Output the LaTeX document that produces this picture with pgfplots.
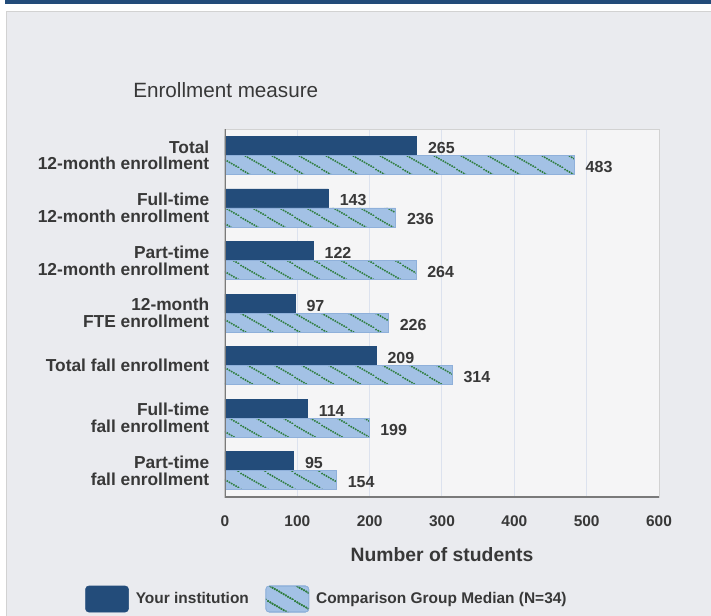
\documentclass[border=0pt]{standalone}
\usepackage{fontspec}
\setmainfont{Liberation Sans}
\usepackage{pgfplots}
\pgfplotsset{compat=1.18}
\usetikzlibrary{patterns}

\definecolor{navy}{HTML}{234C7A}
\definecolor{lblue}{HTML}{A3C1E5}
\definecolor{lblueedge}{HTML}{8FB0DA}
\definecolor{dotgreen}{HTML}{2F7D3E}
\definecolor{panel}{HTML}{EAEBEF}
\definecolor{plotbg}{HTML}{F5F5F6}
\definecolor{txt}{HTML}{383838}
\definecolor{gridc}{HTML}{DCE2EE}
\definecolor{axisdark}{HTML}{7A7A7A}
\definecolor{axislight}{HTML}{D2D2D2}

\pgfdeclarepatternformonly{dotdiag}{\pgfqpoint{0pt}{0pt}}{\pgfqpoint{20pt}{12pt}}{\pgfqpoint{20pt}{12pt}}{%
  \pgfpathcircle{\pgfqpoint{0.833pt}{11.5pt}}{0.85pt}%
  \pgfpathcircle{\pgfqpoint{2.5pt}{10.5pt}}{0.85pt}%
  \pgfpathcircle{\pgfqpoint{4.167pt}{9.5pt}}{0.85pt}%
  \pgfpathcircle{\pgfqpoint{5.833pt}{8.5pt}}{0.85pt}%
  \pgfpathcircle{\pgfqpoint{7.5pt}{7.5pt}}{0.85pt}%
  \pgfpathcircle{\pgfqpoint{9.167pt}{6.5pt}}{0.85pt}%
  \pgfpathcircle{\pgfqpoint{10.833pt}{5.5pt}}{0.85pt}%
  \pgfpathcircle{\pgfqpoint{12.5pt}{4.5pt}}{0.85pt}%
  \pgfpathcircle{\pgfqpoint{14.167pt}{3.5pt}}{0.85pt}%
  \pgfpathcircle{\pgfqpoint{15.833pt}{2.5pt}}{0.85pt}%
  \pgfpathcircle{\pgfqpoint{17.5pt}{1.5pt}}{0.85pt}%
  \pgfpathcircle{\pgfqpoint{19.167pt}{0.5pt}}{0.85pt}%
  \pgfusepath{fill}}

\begin{document}
\begin{tikzpicture}
\useasboundingbox (0,0) rectangle (533.25pt,-462pt);
\fill[white] (0,0) rectangle (533.25pt,-462pt);
\fill[navy] (3.75pt,0) rectangle (534pt,-3pt);
\filldraw[fill=panel, draw=axislight, line width=0.75pt] (4.5pt,-8.5pt) rectangle (540pt,-470pt);

\begin{axis}[
  name=ax,
  at={(168.75pt,-372.75pt)}, anchor=south west,
  scale only axis, width=325.5pt, height=276pt,
  xbar, bar width=14.25pt,
  xmin=0, xmax=600, ymin=-0.5, ymax=6.5, y dir=reverse,
  axis background/.style={fill=plotbg},
  axis line style={draw=axislight, line width=0.75pt},
  xtick={0,100,...,600},
  xmajorgrids, grid style={gridc, line width=0.75pt},
  xtick style={draw=none},
  ytick={0,...,6},
  ytick style={draw=none},
  minor ytick={-0.5,0.5,...,6.5},
  minor tick length=3.75pt,
  tick align=outside,
  minor tick style={axisdark, line width=1pt},
  yticklabels={{Total\\12-month enrollment},{Full-time\\12-month enrollment},{Part-time\\12-month enrollment},{12-month\\FTE enrollment},{Total fall enrollment},{Full-time\\fall enrollment},{Part-time\\fall enrollment}},
  yticklabel style={font=\bfseries\fontsize{13pt}{12.6pt}\selectfont, text=txt, align=right, xshift=-4pt},
  xticklabel style={font=\bfseries\fontsize{11.6pt}{13pt}\selectfont, text=txt, yshift=-6pt},
  /pgf/number format/assume math mode=true,
  xlabel={Number of students},
  xlabel style={font=\bfseries\fontsize{14.5pt}{16pt}\selectfont, text=txt, yshift=-9pt},
  nodes near coords,
  nodes near coords style={font=\bfseries\fontsize{12pt}{13pt}\selectfont, text=txt, anchor=west, xshift=5pt, yshift=-1.5pt},
  legend style={at={(axis description cs:-0.3226,-0.2772)}, anchor=west, legend columns=2, draw=none, fill=none, inner sep=0pt,
    font=\bfseries\fontsize{11.6pt}{13pt}\selectfont, text=txt,
    /tikz/every even column/.append style={column sep=10.5pt}},
  legend cell align=left,
]
\addplot[fill=navy, draw=navy, bar shift=7.125pt,
  legend image code/.code={\draw[rounded corners=2.5pt, fill=navy, draw=navy] (0pt,-9.75pt) rectangle (32.25pt,9.75pt); \node[inner sep=0pt, minimum size=0pt, draw=none, fill=none] at (35.5pt,0pt) {};}]
  coordinates {(265,0) (143,1) (122,2) (97,3) (209,4) (114,5) (95,6)};
\addlegendentry{Your institution}
\addplot[fill=lblue, draw=lblueedge, bar shift=-7.125pt,
  postaction={pattern=dotdiag, pattern color=dotgreen},
  legend image code/.code={\draw[rounded corners=2.5pt, fill=lblue, draw=lblueedge, postaction={pattern=dotdiag, pattern color=dotgreen}] (0pt,-9.75pt) rectangle (32.25pt,9.75pt); \node[inner sep=0pt, minimum size=0pt, draw=none, fill=none] at (35.5pt,0pt) {};}]
  coordinates {(483,0) (236,1) (264,2) (226,3) (314,4) (199,5) (154,6)};
\addlegendentry{Comparison Group Median (N=34)}
\draw[axisdark, line width=1.5pt] (axis description cs:0,1) -- (axis description cs:0,0) -- (axis description cs:1,0);
\end{axis}
\node[anchor=west, font=\fontsize{15.5pt}{17pt}\selectfont, text=txt, inner sep=0pt] at ([xshift=-69pt, yshift=29.25pt]ax.north west) {Enrollment measure};
\end{tikzpicture}
\end{document}
